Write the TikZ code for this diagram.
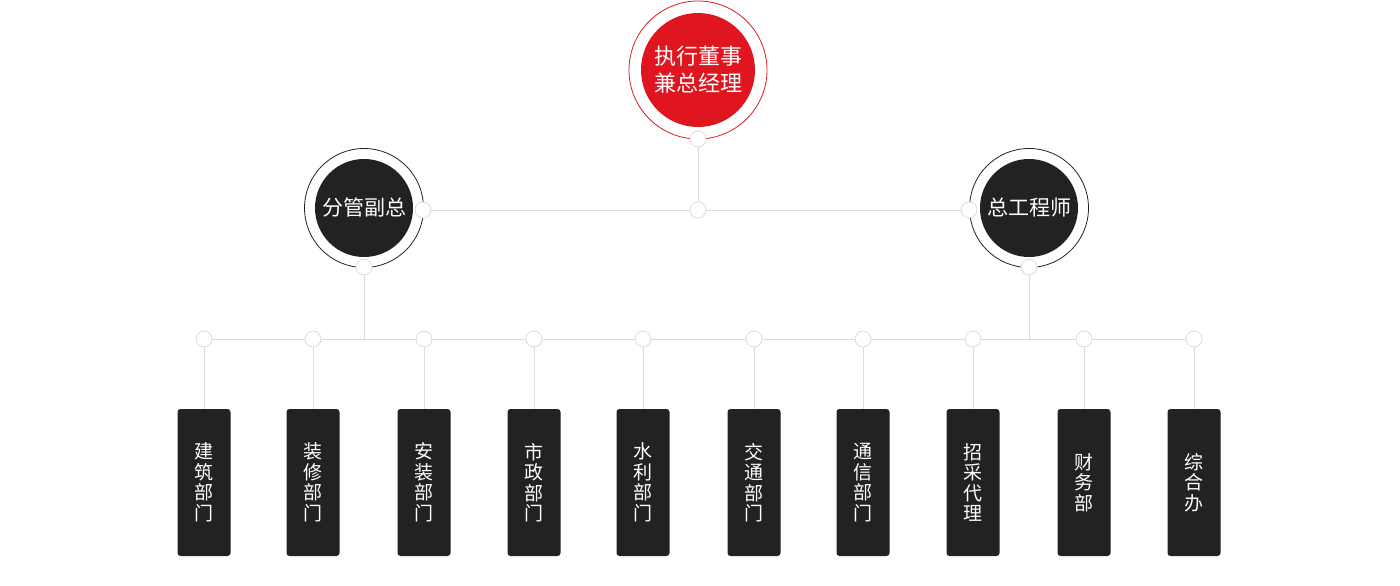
\documentclass[tikz,border=0pt]{standalone}
\usepackage{fontspec}
\setmainfont{Noto Sans CJK SC}
\definecolor{chiefred}{HTML}{DF1620}
\definecolor{boxdark}{HTML}{222222}
\definecolor{linegray}{HTML}{DCDCDC}
\tikzset{
	joint/.style = {circle, draw=linegray, fill=white, line width=0.8pt, minimum size=16pt, inner sep=0pt},
	ring/.style = {circle, line width=0.8pt, fill=white, inner sep=0pt},
	core/.style = {circle, text=white, inner sep=0pt, align=center},
	dept/.style = {rectangle, rounded corners=3pt, fill=boxdark, text=white, minimum width=53pt, minimum height=147pt, inner sep=0pt, align=center, font=\fontsize{19}{20.5}\selectfont}
}
\begin{document}
\begin{tikzpicture}[x=1pt, y=-1pt, draw=linegray, line width=0.8pt]
	\useasboundingbox (0,0) rectangle (1400,586);
	% top
	\node (R0) at ( 698,  70)	[ring, draw=chiefred, minimum size=138pt]	{};
	\node (C0) at ( 698,  70)	[core, fill=chiefred, minimum size=114pt, font=\fontsize{22}{27}\selectfont]	{执行董事\\兼总经理};
	\node (R1) at ( 364, 208)	[ring, draw=boxdark, minimum size=119pt]	{};
	\node (C1) at ( 364, 208)	[core, fill=boxdark, minimum size=98pt, font=\fontsize{21}{24}\selectfont]	{分管副总};
	\node (R2) at (1029, 208)	[ring, draw=boxdark, minimum size=119pt]	{};
	\node (C2) at (1029, 208)	[core, fill=boxdark, minimum size=98pt, font=\fontsize{21}{24}\selectfont]	{总工程师};
	% joints
	\node (J0) at ( 698, 139)	[joint]	{};
	\node (J1) at ( 698, 210)	[joint]	{};
	\node (J2) at ( 423, 210)	[joint]	{};
	\node (J3) at ( 969, 210)	[joint]	{};
	\node (J4) at ( 364, 267)	[joint]	{};
	\node (J5) at (1029, 267)	[joint]	{};
	\coordinate (K1) at ( 364, 339);
	\coordinate (K2) at (1029, 339);
	\node (B1) at ( 204, 339)	[joint]	{};
	\node (B2) at ( 313, 339)	[joint]	{};
	\node (B3) at ( 424, 339)	[joint]	{};
	\node (B4) at ( 534, 339)	[joint]	{};
	\node (B5) at ( 643, 339)	[joint]	{};
	\node (B6) at ( 754, 339)	[joint]	{};
	\node (B7) at ( 863, 339)	[joint]	{};
	\node (B8) at ( 973, 339)	[joint]	{};
	\node (B9) at (1084, 339)	[joint]	{};
	\node (B10) at (1194, 339)	[joint]	{};
	% departments
	\node (D1) at ( 204, 482.5)	[dept]	{建\\筑\\部\\门};
	\node (D2) at ( 313, 482.5)	[dept]	{装\\修\\部\\门};
	\node (D3) at ( 424, 482.5)	[dept]	{安\\装\\部\\门};
	\node (D4) at ( 534, 482.5)	[dept]	{市\\政\\部\\门};
	\node (D5) at ( 643, 482.5)	[dept]	{水\\利\\部\\门};
	\node (D6) at ( 754, 482.5)	[dept]	{交\\通\\部\\门};
	\node (D7) at ( 863, 482.5)	[dept]	{通\\信\\部\\门};
	\node (D8) at ( 973, 482.5)	[dept]	{招\\采\\代\\理};
	\node (D9) at (1084, 482.5)	[dept]	{财\\务\\部};
	\node (D10) at (1194, 482.5)	[dept]	{综\\合\\办};
	% lines
	\draw (J0) -- (J1);
	\draw (J1) -- (J2);
	\draw (J1) -- (J3);
	\draw (J4) -- (K1);
	\draw (J5) -- (K2);
	\draw (B1) -- (B2);
	\draw (B2) -- (B3);
	\draw (B3) -- (B4);
	\draw (B4) -- (B5);
	\draw (B5) -- (B6);
	\draw (B6) -- (B7);
	\draw (B7) -- (B8);
	\draw (B8) -- (B9);
	\draw (B9) -- (B10);
	\draw (B1) -- (D1);
	\draw (B2) -- (D2);
	\draw (B3) -- (D3);
	\draw (B4) -- (D4);
	\draw (B5) -- (D5);
	\draw (B6) -- (D6);
	\draw (B7) -- (D7);
	\draw (B8) -- (D8);
	\draw (B9) -- (D9);
	\draw (B10) -- (D10);
\end{tikzpicture}
\end{document}
